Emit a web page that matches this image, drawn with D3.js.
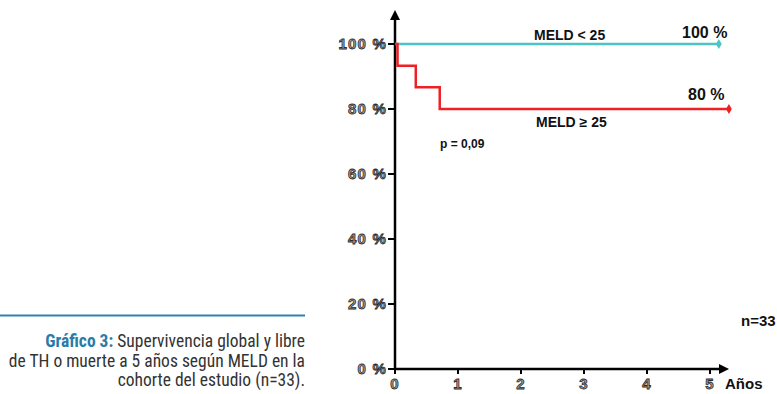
<!DOCTYPE html>
<html>
<head>
<meta charset="utf-8">
<script src="https://cdn.jsdelivr.net/npm/d3@7"></script>
<style>
  body { margin: 0; background: #fff; }
  svg { display: block; }
  .tick-label { font-family: "Liberation Sans", Arial, sans-serif; font-weight: bold; font-size: 15px; letter-spacing: 1.2px; fill: #a3a3a3; stroke: #2a2a2a; stroke-width: 0.8px; }
  .lab { font-family: "Liberation Sans", Arial, sans-serif; font-weight: bold; fill: #111; }
  .cap { font-family: "Roboto Condensed", "Liberation Sans Narrow", Roboto, sans-serif; font-size: 17.5px; fill: #333; }
</style>
</head>
<body>
<svg id="chart"></svg>
<script>
const width = 777;
const height = 394;

const years = [0, 1, 2, 3, 4, 5];
const yTicks = [0, 20, 40, 60, 80, 100];

// Kaplan-Meier curves (years, % survival)
const lowTimes = [0, 5.14];
const lowSurv = [100, 100];
const highTimes = [0, 0.04, 0.33, 0.71, 5.3];
const highSurv = [100, 93.3, 86.7, 80, 80];

const captionLines = [
    ["Gráfico 3:", " Supervivencia global y libre"],
    ["", "de TH o muerte a 5 años según MELD en la"],
    ["", "cohorte del estudio (n=33)."]
];

const svg = d3.select("#chart")
    .attr("width", width)
    .attr("height", height);

const x = d3.scaleLinear().domain([0, 5]).range([395, 710]);
const y = d3.scaleLinear().domain([0, 100]).range([369, 44]);

const line = d3.line()
    .x(d => x(d[0]))
    .y(d => y(d[1]))
    .curve(d3.curveStepAfter);

// axes
svg.append("defs").append("marker")
    .attr("id", "arrow")
    .attr("viewBox", "0 0 10 10")
    .attr("refX", 2).attr("refY", 5)
    .attr("markerWidth", 4).attr("markerHeight", 4)
    .attr("orient", "auto")
    .append("path")
    .attr("d", "M0,0 L10,5 L0,10 z")
    .attr("fill", "#000");

svg.append("line")
    .attr("x1", x(0)).attr("y1", y(0))
    .attr("x2", x(0)).attr("y2", 18)
    .attr("stroke", "#000").attr("stroke-width", 2.5)
    .attr("marker-end", "url(#arrow)");

svg.append("line")
    .attr("x1", x(0)).attr("y1", y(0))
    .attr("x2", 721).attr("y2", y(0))
    .attr("stroke", "#000").attr("stroke-width", 2.5)
    .attr("marker-end", "url(#arrow)");

// y ticks
svg.selectAll(".ytick")
    .data(yTicks)
    .enter().append("line")
    .attr("x1", x(0) - 7).attr("x2", x(0))
    .attr("y1", d => y(d)).attr("y2", d => y(d))
    .attr("stroke", "#000").attr("stroke-width", 2);

svg.selectAll(".ylab")
    .data(yTicks)
    .enter().append("text")
    .attr("class", "tick-label")
    .attr("x", 387)
    .attr("y", d => y(d) + 5)
    .attr("text-anchor", "end")
    .text(d => d + " %");

// x ticks
svg.selectAll(".xtick")
    .data(years)
    .enter().append("line")
    .attr("x1", d => x(d)).attr("x2", d => x(d))
    .attr("y1", y(0)).attr("y2", y(0) + 5)
    .attr("stroke", "#000").attr("stroke-width", 2);

svg.selectAll(".xlab")
    .data(years)
    .enter().append("text")
    .attr("class", "tick-label")
    .attr("x", d => x(d))
    .attr("y", 389)
    .attr("text-anchor", "middle")
    .text(d => d);

svg.append("text").attr("class", "lab")
    .attr("x", 725).attr("y", 389)
    .style("font-size", "15px")
    .text("Años");

// curves
const series = [
    { times: lowTimes, surv: lowSurv, color: "#4dc4c4" },
    { times: highTimes, surv: highSurv, color: "#ee2024" }
];

series.forEach(s => {
    const pts = s.times.map((t, i) => [t, s.surv[i]]);
    svg.append("path")
        .attr("d", line(pts))
        .attr("fill", "none")
        .attr("stroke", s.color)
        .attr("stroke-width", 2.5);
    const last = pts[pts.length - 1];
    svg.append("path")
        .attr("d", d3.symbol(d3.symbolDiamond, 30)())
        .attr("transform", `translate(${x(last[0])},${y(last[1])})`)
        .attr("fill", s.color);
});

// labels
const labels = [
    { text: "MELD < 25", x: 534, y: 40, size: 14 },
    { text: "100 %", x: 682, y: 38, size: 16 },
    { text: "80 %", x: 688, y: 100, size: 16 },
    { text: "MELD ≥ 25", x: 536, y: 127, size: 14 },
    { text: "p = 0,09", x: 440, y: 148, size: 12 },
    { text: "n=33", x: 741, y: 326, size: 15 }
];

svg.selectAll(".lab2")
    .data(labels)
    .enter().append("text")
    .attr("class", "lab")
    .attr("x", d => d.x).attr("y", d => d.y)
    .style("font-size", d => d.size + "px")
    .text(d => d.text);

// caption
svg.append("line")
    .attr("x1", 0).attr("x2", 305)
    .attr("y1", 315.5).attr("y2", 315.5)
    .attr("stroke", "#2e82ad").attr("stroke-width", 2);

const cap = svg.append("g");
captionLines.forEach((ln, i) => {
    const t = cap.append("text")
        .attr("class", "cap")
        .attr("x", 305)
        .attr("y", 347 + i * 19.5)
        .attr("text-anchor", "end");
    if (ln[0]) t.append("tspan").attr("fill", "#2a7ca8").attr("font-weight", "bold").text(ln[0]);
    t.append("tspan").text(ln[1]);
});
</script>
</body>
</html>
